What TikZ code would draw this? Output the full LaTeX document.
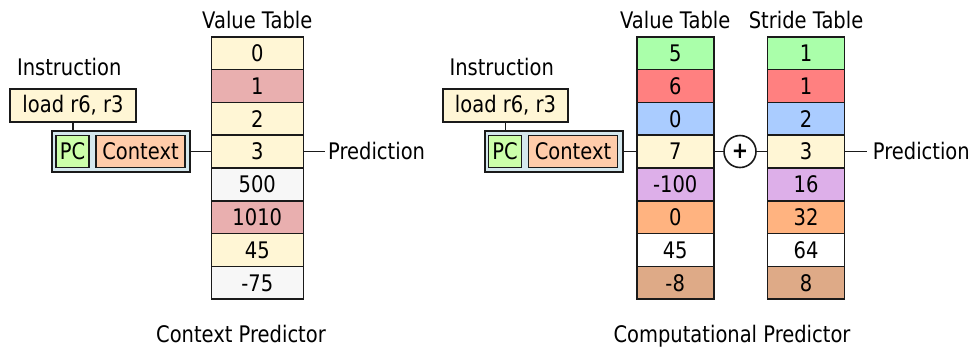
\documentclass[tikz,border=0pt]{standalone}
\usepackage{fontspec}
\setmainfont{DejaVu Sans}[FakeStretch=0.855]
\definecolor{cream}{HTML}{FFF6D5}
\definecolor{pink}{HTML}{E9AFAF}
\definecolor{pale}{HTML}{F7F7F7}
\definecolor{vgreen}{HTML}{AAFFAA}
\definecolor{vred}{HTML}{FF8080}
\definecolor{vblue}{HTML}{AACCFF}
\definecolor{vpurple}{HTML}{DDAFE9}
\definecolor{vorange}{HTML}{FFB380}
\definecolor{vbrown}{HTML}{DEAA87}
\definecolor{pcgreen}{HTML}{CCFFAA}
\definecolor{ctxpeach}{HTML}{FFCCAA}
\definecolor{keyblue}{HTML}{D5E8EE}
\definecolor{ink}{HTML}{1A1A1A}
\begin{document}
\begin{tikzpicture}[x=1pt,y=-1pt,font=\fontsize{22.8}{25}\selectfont]
\useasboundingbox (0,0) rectangle (977,349);
\tikzset{
  cell/.style={draw=ink,line width=1.6pt,minimum height=32.8pt,inner sep=0pt,
    outer sep=0pt,text height=16.6pt,text depth=0pt},
  lcell/.style={cell,minimum width=92pt},
  rcell/.style={cell,minimum width=77pt},
  instrbox/.style={draw=ink,line width=1.6pt,fill=cream,minimum width=125.5pt,
    minimum height=33pt,inner sep=0pt,text height=16.6pt,text depth=3.5pt},
  keybox/.style={draw=ink,line width=2pt,fill=keyblue,minimum width=138pt,
    minimum height=40.6pt,inner sep=0pt},
  pcbox/.style={draw=ink,line width=1.6pt,fill=pcgreen,minimum width=33pt,
    minimum height=32pt,inner sep=0pt,text height=16.6pt,text depth=0pt},
  ctxbox/.style={draw=ink,line width=1.6pt,fill=ctxpeach,minimum width=89pt,
    minimum height=32pt,inner sep=0pt,text height=16.6pt,text depth=0pt},
  title/.style={anchor=base,inner sep=0pt},
  predlabel/.style={anchor=west,inner ysep=0pt,text height=16.6pt,text depth=0pt},
  adder/.style={draw=ink,line width=1.6pt,circle,minimum size=32pt,inner sep=0pt,fill=white},
  conn/.style={draw=ink,line width=1.6pt}
}

% ---------------- Context predictor ----------------
\node[title] (ltitle) at (257.3,28.5) {Value Table};
\foreach \v/\c [count=\i] in {0/cream,1/pink,2/cream,3/cream,500/pale,1010/pink,45/cream,-75/pale}
  \node[lcell,fill=\c] (L\i) at (257.3,{36.7+(\i-0.5)*32.8}) {\v};

\node[title] (linstr) at (69.2,75.5) {Instruction};
\node[instrbox] (lload) at (73,105.7) {load r6, r3};
\node[keybox] (lkey) at (121,151.5) {};
\node[pcbox] (lpc) at (72.5,151.5) {PC};
\node[ctxbox] (lctx) at (140.5,151.5) {Context};
\node[predlabel,inner xsep=3pt] (lpred) at (325,151.5) {Prediction};

\draw[conn] (lload.south) -- (lload.south |- lkey.north);
\draw[conn] (lkey.east) -- (L4.west);
\draw[conn] (L4.east) -- (lpred.west);

\node[title] (lcap) at (241,342.5) {Context Predictor};

% ---------------- Computational predictor ----------------
\node[title] (vtitle) at (675.2,28.5) {Value Table};
\node[title] (stitle) at (806,28.5) {Stride Table};
\foreach \v/\c [count=\i] in {5/vgreen,6/vred,0/vblue,7/cream,-100/vpurple,0/vorange,45/white,-8/vbrown}
  \node[rcell,fill=\c] (V\i) at (675.2,{36.7+(\i-0.5)*32.8}) {\v};
\foreach \v/\c [count=\i] in {1/vgreen,1/vred,2/vblue,3/cream,16/vpurple,32/vorange,64/white,8/vbrown}
  \node[rcell,fill=\c] (S\i) at (806,{36.7+(\i-0.5)*32.8}) {\v};

\node[title] (rinstr) at (501.7,75.5) {Instruction};
\node[instrbox] (rload) at (505.5,105.7) {load r6, r3};
\node[keybox] (rkey) at (553.5,151.5) {};
\node[pcbox] (rpc) at (505,151.5) {PC};
\node[ctxbox] (rctx) at (573,151.5) {Context};
\node[adder] (plus) at (740,151.5) {\textbf{+}};
\node[predlabel,inner xsep=6pt] (rpred) at (866.7,151.5) {Prediction};

\draw[conn] (rload.south) -- (rload.south |- rkey.north);
\draw[conn] (rkey.east) -- (V4.west);
\draw[conn] (V4.east) -- (plus);
\draw[conn] (plus) -- (S4.west);
\draw[conn] (S4.east) -- (rpred.west);

\node[title] (rcap) at (732,342.5) {Computational Predictor};
\end{tikzpicture}
\end{document}
